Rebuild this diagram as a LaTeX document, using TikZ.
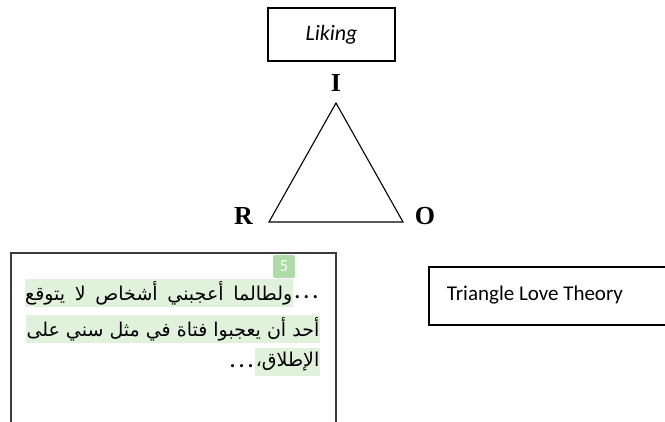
\documentclass[tikz,border=0pt]{standalone}
\usepackage{fontspec}
\setmainfont{Liberation Serif}
\newfontfamily\arabicfont[Script=Arabic]{DejaVu Sans}
\newfontfamily\calib{Carlito}
\TeXXeTstate=1
\newcommand{\wdots}{.\kern2.5pt.\kern2.5pt.}
\definecolor{hl}{RGB}{224,242,220}
\definecolor{badgecol}{RGB}{174,219,168}
\definecolor{boxgray}{RGB}{60,60,60}
\tikzset{
  lbl/.style={font=\fontsize{26}{28}\selectfont\bfseries, inner sep=0pt},
  plainbox/.style={draw=black, line width=1.1pt},
  hlbox/.style={fill=hl, inner xsep=0.5pt, inner ysep=0pt, minimum height=28pt,
    font=\fontsize{19}{22}\arabicfont},
  dots/.style={font=\fontsize{26}{28}\calib, inner xsep=1pt, inner ysep=0pt},
}
\begin{document}
\begin{tikzpicture}[x=1pt,y=-1pt]
\useasboundingbox (0,0) rectangle (665,422);
\clip (0,0) rectangle (665,422);
\fill[white] (0,0) rectangle (665,422);
% Liking box
\node[plainbox, minimum width=127pt, minimum height=53pt, inner sep=0pt,
  font=\fontsize{22}{24}\calib\itshape] (liking) at (331.5,34.5) {Liking};
% triangle
\coordinate (ti) at (336,103);
\coordinate (tr) at (269,222);
\coordinate (to) at (403,222);
\draw[line width=1.1pt, line join=miter] (ti) -- (tr) -- (to) -- cycle;
\node[lbl] (li) at (336,83) {I};
\node[lbl] (lr) at (243.5,216) {R};
\node[lbl] (lo) at (425,216) {O};
% left text box
\draw[boxgray, line width=1.6pt] (11,253) rectangle (336,440);
\node[fill=badgecol, rounded corners=2pt, minimum width=22pt, minimum height=23pt,
  inner sep=0pt, text=white, font=\fontsize{17}{18}\calib] (badge) at (284,266.5) {5};
\node[dots, anchor=east] (e1) at (320,297) {\wdots};
\node[hlbox, anchor=east] (l1) at (e1.west |- 0,293) {\hbox to 267pt{\beginR ولطالما أعجبني أشخاص لا يتوقع\endR}};
\node[hlbox, anchor=east] (l2) at (320,329) {\beginR أحد أن يعجبوا فتاة في مثل سني على\endR};
\node[hlbox, anchor=east] (l3) at (320,362) {\beginR الإطلاق،\endR};
\node[dots, anchor=east] (e3) at (l3.west |- 0,366) {\wdots};
% right box
\draw[black, line width=1.1pt] (429,267) rectangle (680,325);
\node[font=\fontsize{21}{24}\calib, inner sep=0pt] (tlt) at (535,295) {Triangle Love Theory};
\end{tikzpicture}
\end{document}
